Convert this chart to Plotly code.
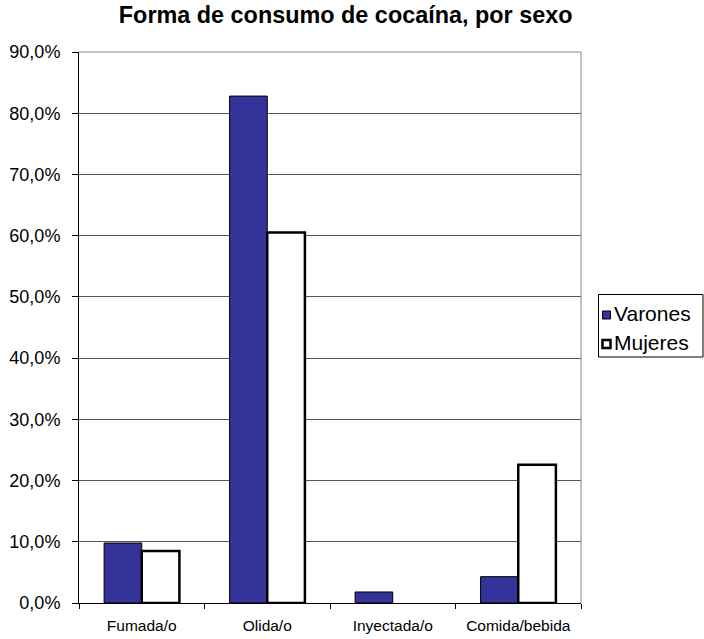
import plotly.graph_objects as go

# Forma de consumo de cocaína, por sexo (porcentaje)
categorias = ["Fumada/o", "Olida/o", "Inyectada/o", "Comida/bebida"]
varones = [9.8, 82.8, 1.8, 4.3]
mujeres = [8.5, 60.5, 0.0, 22.6]
y_ticks = [0, 10, 20, 30, 40, 50, 60, 70, 80, 90]
y_tick_text = [f"{v:.1f}%".replace(".", ",") for v in y_ticks]

FONT = "Liberation Sans, Arial, sans-serif"
AZUL = "#333399"

fig = go.Figure()
fig.add_trace(go.Bar(
    name="Varones", x=categorias, y=varones,
    marker=dict(color=AZUL, line=dict(color="#000000", width=1)),
))
# las barras de valor cero no llevan contorno
fig.add_trace(go.Bar(
    name="Mujeres", x=categorias, y=mujeres,
    marker=dict(color="#ffffff",
                line=dict(color="#000000",
                          width=[2.5 if v > 0 else 0 for v in mujeres])),
))

fig.update_layout(
    width=704, height=639,
    margin=dict(l=79, r=123, t=52, b=36, autoexpand=False),
    paper_bgcolor="white", plot_bgcolor="white",
    barmode="group", bargap=0.4, bargroupgap=0,
    font=dict(family=FONT, size=15, color="#000000"),
    title=dict(
        text="<b>Forma de consumo de cocaína, por sexo</b>",
        font=dict(family=FONT, size=23.4, color="#000000"),
        x=0.491, xref="container", xanchor="center",
        y=0.977, yref="container", yanchor="middle",
    ),
    showlegend=False,
)

fig.update_xaxes(
    type="category", showline=True, linecolor="#000000", linewidth=1,
    ticks="outside", tickson="boundaries", ticklen=5, tickcolor="#000000",
    showgrid=False, tickfont=dict(size=15.5), ticklabelstandoff=8,
)
fig.update_yaxes(
    range=[0, 90], tickvals=y_ticks, ticktext=y_tick_text,
    showline=True, linecolor="#000000", linewidth=1,
    ticks="outside", ticklen=6, tickcolor="#000000",
    showgrid=True, gridcolor="#555555", gridwidth=1,
    zeroline=False, tickfont=dict(size=18), ticklabelstandoff=8,
)

# Borde superior y derecho del área de trazado
fig.add_shape(type="line", xref="paper", yref="paper", x0=0, x1=1, y0=1, y1=1,
              line=dict(color="#888888", width=1))
fig.add_shape(type="line", xref="paper", yref="paper", x0=1, x1=1, y0=0, y1=1,
              line=dict(color="#888888", width=1))

# Leyenda dibujada en coordenadas de píxel del lienzo
PX_L, PX_R, PX_T, PX_B = 79, 581, 52, 603


def px(x):
    return (x - PX_L) / (PX_R - PX_L)


def py(y):
    return (PX_B - y) / (PX_B - PX_T)


fig.add_shape(type="rect", xref="paper", yref="paper",
              x0=px(598.5), x1=px(703), y0=py(357), y1=py(294.5),
              line=dict(color="#000000", width=1), fillcolor="white")

entradas = [
    ("Varones", AZUL, 1, 313),
    ("Mujeres", "#ffffff", 2.5, 342),
]
for nombre, relleno, borde, yc in entradas:
    fig.add_shape(type="rect", xref="paper", yref="paper",
                  x0=px(602.5), x1=px(610.5), y0=py(yc + 6), y1=py(yc - 2),
                  line=dict(color="#000000", width=borde), fillcolor=relleno)
    fig.add_annotation(xref="paper", yref="paper", x=px(612), y=py(yc),
                       text=nombre, showarrow=False, xanchor="left",
                       yanchor="middle", font=dict(family=FONT, size=21))

fig.write_html("out.html")
